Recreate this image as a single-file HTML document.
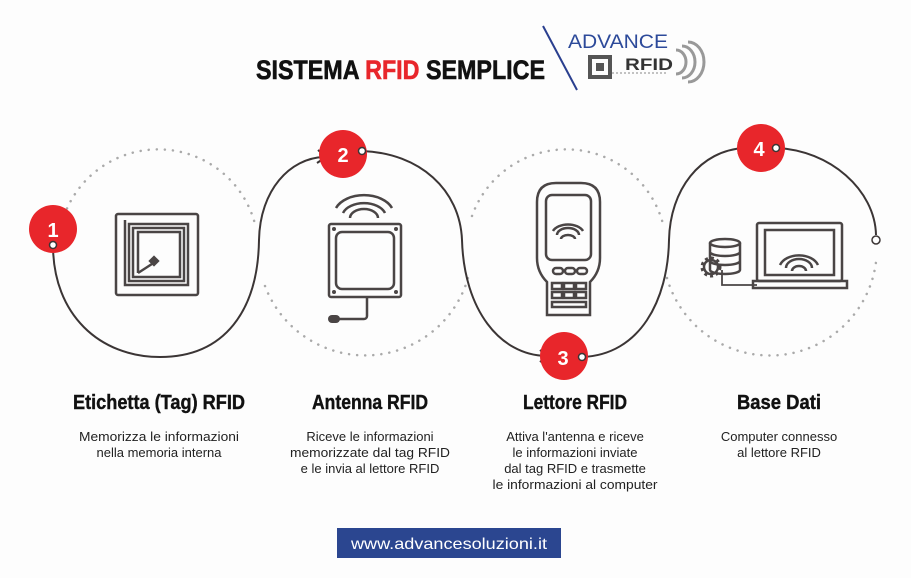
<!DOCTYPE html>
<html><head><meta charset="utf-8"><style>
html,body{margin:0;padding:0;background:#fff;}
svg{display:block;}
text{font-family:"Liberation Sans",sans-serif;}
</style></head><body>
<svg width="911" height="578" viewBox="0 0 911 578" xmlns="http://www.w3.org/2000/svg">
<rect width="911" height="578" fill="#fdfdfd"/>
<!-- title -->
<text x="256" y="79" font-size="27" font-weight="bold" fill="#111" stroke="#111" stroke-width="0.6" textLength="289" lengthAdjust="spacingAndGlyphs">SISTEMA <tspan fill="#e8262b" stroke="#e8262b">RFID</tspan> SEMPLICE</text>
<line x1="543" y1="26" x2="577" y2="90" stroke="#2a3f8f" stroke-width="2"/>
<text x="568" y="48" font-size="19" fill="#2d4a9a" textLength="100" lengthAdjust="spacingAndGlyphs">ADVANCE</text>
<text x="625" y="70" font-size="17" font-weight="bold" fill="#333" textLength="48" lengthAdjust="spacingAndGlyphs">RFID</text>
<rect x="590" y="57" width="20" height="20" fill="none" stroke="#555" stroke-width="4"/>
<rect x="596" y="63" width="8" height="8" fill="#555"/>
<line x1="612" y1="73" x2="668" y2="73" stroke="#888" stroke-width="1" stroke-dasharray="2,2"/>
<path d="M676,50 a10,12 0 0 1 0,24 M682,46 a13,16 0 0 1 0,32 M688,42 a16,20 0 0 1 0,40" fill="none" stroke="#999" stroke-width="3"/>
<!-- dotted circles -->
<g fill="none" stroke="#aaa" stroke-width="2.5" stroke-dasharray="0.1,8" stroke-linecap="round">
<path d="M64,216 A100,100 0 0 1 255,224"/>
<path d="M265,286 A107,107 0 0 0 468,278"/>
<path d="M472,216 A100,100 0 0 1 663,224"/>
<path d="M667,278 A107,107 0 0 0 876,262"/>
</g>
<!-- solid path -->
<g fill="none" stroke="#3b3535" stroke-width="2">
<path d="M53,245 C53,315 100,357 160,357 C225,357 258,310 259,240 C260,190 290,158 324,157"/>
<path d="M362,151 C420,153 460,190 462,240 C464,310 500,355 546,356"/>
<path d="M582,357 C640,355 668,300 669,240 C670,190 700,150 745,148"/>
<path d="M776,148 C830,150 875,190 876,235"/>
<path d="M318,150 L326,157 L317,163"/>
<path d="M540,350 L547,356 L540,362"/>
<path d="M738,142 L746,148 L738,154"/>
</g>
<!-- red circles -->
<g fill="#e8262b">
<circle cx="53" cy="229" r="24"/>
<circle cx="343" cy="154" r="24"/>
<circle cx="564" cy="356" r="24"/>
<circle cx="761" cy="148" r="24"/>
</g>
<g font-size="20" font-weight="bold" fill="#fff" text-anchor="middle">
<text x="53" y="237">1</text>
<text x="343" y="162">2</text>
<text x="563" y="365">3</text>
<text x="759" y="156">4</text>
</g>
<g fill="#fff" stroke="#3b3535" stroke-width="1.5">
<circle cx="53" cy="245" r="3.5"/>
<circle cx="362" cy="151" r="3.5"/>
<circle cx="582" cy="357" r="3.5"/>
<circle cx="776" cy="148" r="3.5"/>
<circle cx="876" cy="240" r="4"/>
</g>
<!-- tag icon -->
<g fill="none" stroke="#4a4545" stroke-width="2.5">
<rect x="116" y="214" width="82" height="81" rx="2"/>
<path d="M125,220 V285 H188 V224 H129 V281 H184 V228 H133 V277 H180 V232 H138 V273"/>
<line x1="138" y1="273" x2="155" y2="262"/>
</g>
<rect x="150" y="257" width="8" height="8" fill="#4a4545" transform="rotate(45 154 261)"/>
<!-- antenna icon -->
<g fill="none" stroke="#4a4545" stroke-width="2.5">
<rect x="329" y="224" width="72" height="73" rx="2"/>
<rect x="336" y="232" width="58" height="57" rx="6"/>
<path d="M336,208 a30,20 0 0 1 56,0 M343,213 a22,14 0 0 1 42,0 M350,218 a14,9 0 0 1 28,0"/>
<path d="M367,297 V316 a3,3 0 0 1 -3,3 H338"/>
</g>
<g fill="#4a4545"><circle cx="334" cy="229" r="2"/><circle cx="396" cy="229" r="2"/><circle cx="334" cy="292" r="2"/><circle cx="396" cy="292" r="2"/><rect x="328" y="315" width="12" height="8" rx="4"/></g>
<!-- reader icon -->
<g fill="none" stroke="#4a4545" stroke-width="2.5">
<path d="M547,315 V282 Q537,272 537,258 V202 Q537,183 556,183 H581 Q600,183 600,202 V258 Q600,272 590,282 V315 Z"/>
<rect x="546" y="195" width="45" height="65" rx="6"/>
<path d="M553,231 a16,10 0 0 1 30,0 M557,235 a11,7 0 0 1 22,0 M561,239 a7,4 0 0 1 14,0"/>
<rect x="553" y="268" width="10" height="6" rx="3"/><rect x="565" y="268" width="10" height="6" rx="3"/><rect x="577" y="268" width="10" height="6" rx="3"/>
<rect x="552" y="283" width="10" height="6"/><rect x="564" y="283" width="10" height="6"/><rect x="576" y="283" width="10" height="6"/>
<rect x="552" y="292" width="10" height="6"/><rect x="564" y="292" width="10" height="6"/><rect x="576" y="292" width="10" height="6"/>
<rect x="552" y="302" width="34" height="5"/>
</g>
<!-- computer icon -->
<g fill="none" stroke="#4a4545" stroke-width="2.5">
<rect x="757" y="223" width="85" height="58" rx="2"/>
<rect x="765" y="230" width="69" height="45"/>
<path d="M753,281 H847 V288 H753 Z"/>
<path d="M780,265 a20,14 0 0 1 38,0 M786,268 a13,9 0 0 1 26,0 M792,271 a7,5 0 0 1 14,0"/>
<ellipse cx="725" cy="243" rx="15" ry="4"/>
<path d="M710,243 V270 a15,4 0 0 0 30,0 V243 M710,252 a15,4 0 0 0 30,0 M710,261 a15,4 0 0 0 30,0"/>
<path d="M722,270 V285 H757" stroke-width="1.8"/>
<circle cx="711" cy="267" r="7"/>
</g>
<circle cx="711" cy="267" r="9" fill="none" stroke="#4a4545" stroke-width="3" stroke-dasharray="3,3"/>
<!-- labels -->
<g font-size="20" font-weight="bold" fill="#111" stroke="#111" stroke-width="0.4" text-anchor="middle">
<text x="159" y="409" textLength="172" lengthAdjust="spacingAndGlyphs">Etichetta (Tag) RFID</text>
<text x="370" y="409" textLength="116" lengthAdjust="spacingAndGlyphs">Antenna RFID</text>
<text x="575" y="409" textLength="104" lengthAdjust="spacingAndGlyphs">Lettore RFID</text>
<text x="779" y="409" textLength="84" lengthAdjust="spacingAndGlyphs">Base Dati</text>
</g>
<g font-size="13" fill="#222" text-anchor="middle">
<text x="159" y="441" textLength="160" lengthAdjust="spacingAndGlyphs">Memorizza le informazioni</text>
<text x="159" y="457">nella memoria interna</text>
<text x="370" y="441">Riceve le informazioni</text>
<text x="370" y="457" textLength="160" lengthAdjust="spacingAndGlyphs">memorizzate dal tag RFID</text>
<text x="370" y="473">e le invia al lettore RFID</text>
<text x="575" y="441">Attiva l'antenna e riceve</text>
<text x="575" y="457">le informazioni inviate</text>
<text x="575" y="473">dal tag RFID e trasmette</text>
<text x="575" y="489" textLength="165" lengthAdjust="spacingAndGlyphs">le informazioni al computer</text>
<text x="779" y="441">Computer connesso</text>
<text x="779" y="457">al lettore RFID</text>
</g>
<!-- footer -->
<rect x="337" y="528" width="224" height="30" fill="#2b4690"/>
<text x="449" y="549" font-size="16" fill="#fff" text-anchor="middle" textLength="196" lengthAdjust="spacingAndGlyphs">www.advancesoluzioni.it</text>
</svg>
</body></html>
